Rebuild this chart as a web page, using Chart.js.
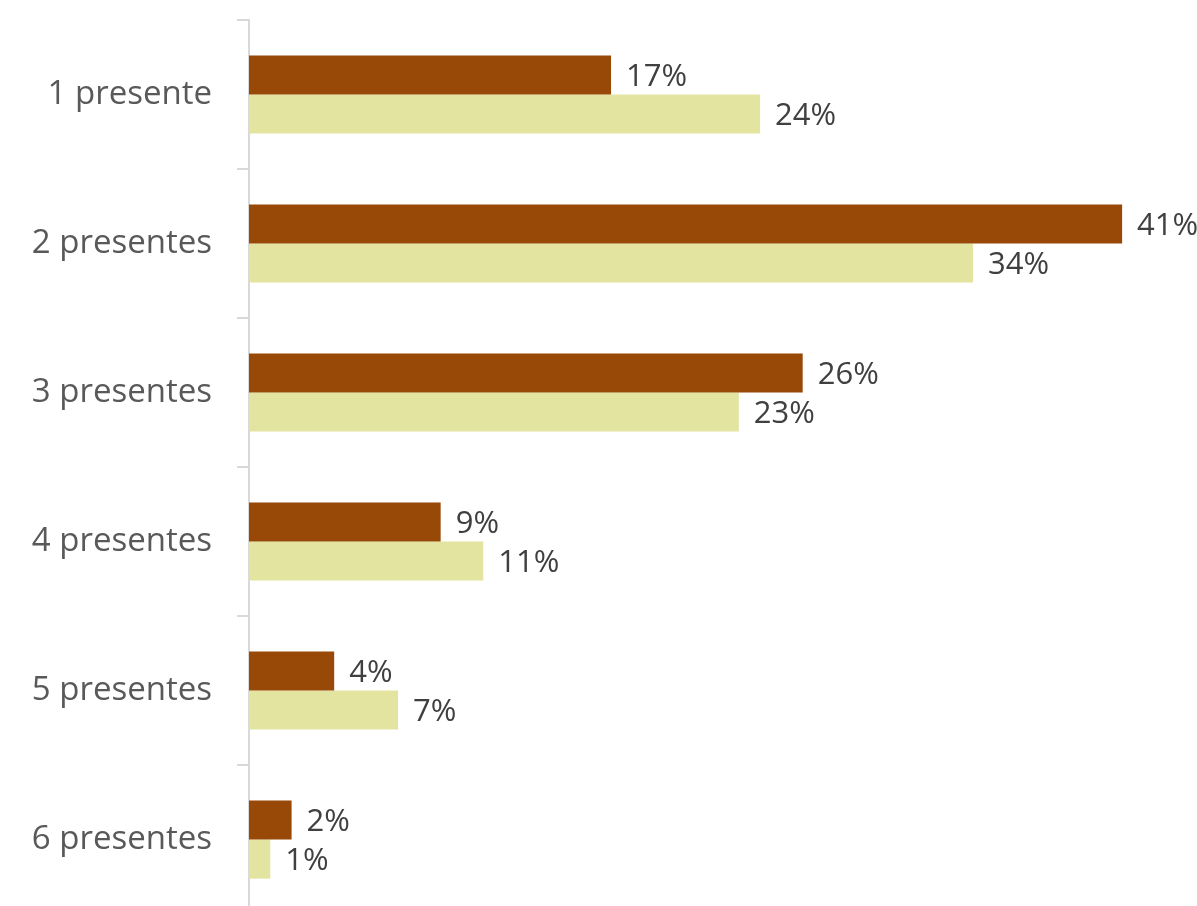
<!DOCTYPE html>
<html>
<head>
<meta charset="utf-8">
<script src="https://cdn.jsdelivr.net/npm/chart.js@4"></script>
<style>
  html, body { margin: 0; padding: 0; background: #ffffff; overflow: hidden; }
  #wrap { position: relative; width: 1197px; height: 914px; }
</style>
</head>
<body>
<div id="wrap"><canvas id="chart"></canvas></div>
<script>
// Number of gifts received per person, share of respondents (%)
const categories = ['1 presente', '2 presentes', '3 presentes', '4 presentes', '5 presentes', '6 presentes'];
const seriesA = [17, 41, 26, 9, 4, 2];
const seriesB = [24, 34, 23, 11, 7, 1];
const seriesNames = ['Grupo A', 'Grupo B'];

const FONT = '"Open Sans", "DejaVu Sans", sans-serif';

// Writes the percentage just past the end of every bar
const barValueLabels = {
  id: 'barValueLabels',
  afterDatasetsDraw(chart) {
    const ctx = chart.ctx;
    ctx.save();
    ctx.font = '31px ' + FONT;
    ctx.fillStyle = '#404040';
    ctx.textAlign = 'left';
    ctx.textBaseline = 'middle';
    chart.data.datasets.forEach((ds, i) => {
      const meta = chart.getDatasetMeta(i);
      meta.data.forEach((bar, j) => {
        ctx.fillText(ds.data[j] + '%', bar.x + 15, bar.y + 2);
      });
    });
    ctx.restore();
  }
};

new Chart(document.getElementById('chart'), {
  type: 'bar',
  data: {
    labels: categories,
    datasets: [
      { label: seriesNames[0], data: seriesA, backgroundColor: '#984807', borderWidth: 0 },
      { label: seriesNames[1], data: seriesB, backgroundColor: '#e3e49f', borderWidth: 0 }
    ]
  },
  options: {
    indexAxis: 'y',
    responsive: true,
    maintainAspectRatio: false,
    animation: false,
    layout: { padding: { top: 20, right: 11, bottom: 0, left: 0 } },
    datasets: { bar: { barPercentage: 1.0, categoryPercentage: 0.525 } },
    plugins: { legend: { display: false }, tooltip: { enabled: false } },
    scales: {
      x: { display: false, min: 0, max: 44 },
      y: {
        afterFit(scale) {
          scale.width = 249;
          scale.paddingTop = 0;
          scale.paddingBottom = 0;
        },
        grid: { drawOnChartArea: false, drawTicks: true, tickLength: 12, color: '#d9d9d9', lineWidth: 2 },
        border: { display: true, color: '#d9d9d9', width: 2 },
        ticks: { color: '#595959', padding: 25, font: { family: FONT, size: 33 } }
      }
    }
  },
  plugins: [barValueLabels]
});
</script>
</body>
</html>
